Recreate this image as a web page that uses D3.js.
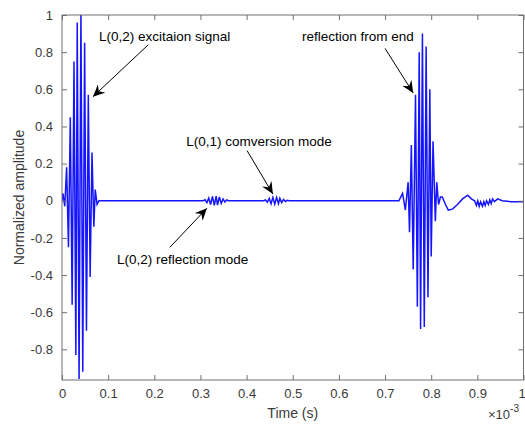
<!DOCTYPE html>
<html>
<head>
<meta charset="utf-8">
<script src="https://cdnjs.cloudflare.com/ajax/libs/d3/7.8.5/d3.min.js"></script>
<style>
  body { margin: 0; background: #fff; }
  svg { font-family: "Liberation Sans", Arial, sans-serif; }
</style>
</head>
<body>
<div id="chart"></div>
<script>
// time in units of 1e-3 s, amplitude normalized
var excitationT = [0, 0.002, 0.006, 0.010, 0.014, 0.018, 0.022, 0.026, 0.030, 0.033, 0.037, 0.041, 0.045, 0.049, 0.053, 0.057, 0.061, 0.065, 0.069, 0.072, 0.076, 0.080];
var excitationA = [0, 0.04, -0.03, 0.18, -0.25, 0.45, -0.56, 0.75, -0.83, 0.96, -0.96, 1.02, -0.92, 0.85, -0.70, 0.57, -0.41, 0.26, -0.14, 0.06, -0.02, 0];

var reflModeT = [0.306, 0.310, 0.314, 0.318, 0.322, 0.326, 0.330, 0.334, 0.337, 0.341, 0.345, 0.349, 0.353, 0.357, 0.361];
var reflModeA = [0, 0.005, -0.01, 0.015, -0.02, 0.024, -0.025, 0.025, -0.024, 0.02, -0.015, 0.01, -0.007, 0.004, 0];

var convModeT = [0.437, 0.441, 0.445, 0.449, 0.453, 0.457, 0.461, 0.465, 0.469, 0.472, 0.476, 0.480, 0.484, 0.488, 0.492];
var convModeA = [0, 0.004, -0.008, 0.012, -0.016, 0.018, -0.018, 0.018, -0.016, 0.013, -0.01, 0.007, -0.004, 0.002, 0];

var endReflT = [0.730, 0.738, 0.744, 0.750, 0.753, 0.757, 0.761, 0.766, 0.770, 0.774, 0.777, 0.781, 0.785, 0.789, 0.793, 0.797, 0.800, 0.804, 0.809, 0.812, 0.816, 0.820];
var endReflA = [0, 0.04, -0.05, 0.10, -0.17, 0.30, -0.37, 0.57, -0.57, 0.80, -0.69, 0.90, -0.68, 0.83, -0.52, 0.60, -0.30, 0.32, -0.11, 0.10, -0.02, 0.02];

var tailT = [0.824, 0.831, 0.837, 0.846, 0.857, 0.868, 0.879, 0.887, 0.894, 0.898, 0.901, 0.904, 0.907, 0.911, 0.914, 0.917, 0.920, 0.924, 0.927, 0.930, 0.933, 0.937, 0.944, 0.954, 0.972, 1.0];
var tailA = [0.02, -0.02, -0.05, -0.045, -0.02, 0.01, 0.03, 0.01, 0.0, -0.025, 0.0, -0.03, -0.005, -0.03, -0.005, -0.025, 0.0, -0.02, 0.005, -0.015, 0.01, -0.005, 0.01, 0.0, -0.005, -0.005];

var xTicks = [0, 0.1, 0.2, 0.3, 0.4, 0.5, 0.6, 0.7, 0.8, 0.9, 1];
var yTicks = [-0.8, -0.6, -0.4, -0.2, 0, 0.2, 0.4, 0.6, 0.8, 1];

// annotations: text anchor and arrow (from -> tip), in data units
var noteText = ["L(0,2) excitaion signal", "reflection from end", "L(0,1) comversion mode", "L(0,2) reflection mode"];
var noteT = [0.080, 0.520, 0.269, 0.119];
var noteA = [0.86, 0.86, 0.295, -0.34];
var arrowFrom = [[0.187, 0.84], [0.700, 0.82], [0.401, 0.27], [0.234, -0.25]];
var arrowTip = [[0.067, 0.56], [0.761, 0.58], [0.457, 0.036], [0.314, -0.04]];

var width = 525, height = 424;
var plotL = 62, plotR = 523.5, plotT = 15, plotB = 380;
var axisColor = "#707070", textColor = "#3a3a3a";

var svg = d3.select("#chart").append("svg")
    .attr("width", width)
    .attr("height", height);

var x = d3.scaleLinear().domain([0, 1]).range([plotL, plotR]);
var y = d3.scaleLinear().domain([-0.965, 1]).range([plotB, plotT]);

// build one trace from the segments
var points = [];
[[excitationT, excitationA], [reflModeT, reflModeA], [convModeT, convModeA],
 [endReflT, endReflA], [tailT, tailA]].forEach(function(seg) {
    seg[0].forEach(function(t, i) { points.push([t, seg[1][i]]); });
});

svg.append("clipPath").attr("id", "plotclip")
    .append("rect")
    .attr("x", plotL).attr("y", plotT)
    .attr("width", plotR - plotL).attr("height", plotB - plotT);

svg.append("path")
    .datum(points)
    .attr("clip-path", "url(#plotclip)")
    .attr("fill", "none")
    .attr("stroke", "#1414ff")
    .attr("stroke-width", 1.5)
    .attr("stroke-linejoin", "miter")
    .attr("d", d3.line().x(function(d) { return x(d[0]); }).y(function(d) { return y(d[1]); }));

// axes
function fmt(v) { return v === 0 ? "0" : String(+v.toFixed(1)); }

var xAxis = svg.append("g")
    .attr("transform", "translate(0," + plotB + ")")
    .call(d3.axisBottom(x).tickValues(xTicks).tickSizeInner(-5).tickSizeOuter(0).tickPadding(9).tickFormat(fmt));
var xTop = svg.append("g")
    .attr("transform", "translate(0," + plotT + ")")
    .call(d3.axisTop(x).tickValues(xTicks).tickSizeInner(-5).tickSizeOuter(0).tickFormat(""));
var yAxis = svg.append("g")
    .attr("transform", "translate(" + plotL + ",0)")
    .call(d3.axisLeft(y).tickValues(yTicks).tickSizeInner(-5).tickSizeOuter(0).tickPadding(9).tickFormat(fmt));
var yRight = svg.append("g")
    .attr("transform", "translate(" + plotR + ",0)")
    .call(d3.axisRight(y).tickValues(yTicks).tickSizeInner(-5).tickSizeOuter(0).tickFormat(""));

[xAxis, xTop, yAxis, yRight].forEach(function(g) {
    g.selectAll(".domain").remove();
    g.selectAll(".tick line").attr("stroke", axisColor);
    g.selectAll(".tick text")
        .attr("fill", textColor)
        .style("font-size", "13px")
        .style("font-family", "Liberation Sans, Arial, sans-serif");
});
// last x label sits at the very edge, nudge it in
xAxis.selectAll(".tick text").filter(function(d) { return d === 1; }).attr("dx", -2);

svg.append("rect")
    .attr("x", plotL).attr("y", plotT)
    .attr("width", plotR - plotL).attr("height", plotB - plotT)
    .attr("fill", "none")
    .attr("stroke", axisColor)
    .attr("stroke-width", 1);

// axis labels
svg.append("text")
    .attr("x", (plotL + plotR) / 2)
    .attr("y", 418)
    .attr("text-anchor", "middle")
    .attr("fill", textColor)
    .style("font-size", "14px")
    .text("Time (s)");

var expo = svg.append("text")
    .attr("x", 488)
    .attr("y", 419)
    .attr("fill", textColor)
    .style("font-size", "13px");
expo.append("tspan").text("\u00d710");
expo.append("tspan").attr("dy", -7).style("font-size", "10px").text("-3");

svg.append("text")
    .attr("transform", "translate(24," + ((plotT + plotB) / 2) + ") rotate(-90)")
    .attr("text-anchor", "middle")
    .attr("fill", textColor)
    .style("font-size", "14px")
    .text("Normalized amplitude");

// annotations
svg.append("defs").append("marker")
    .attr("id", "head")
    .attr("viewBox", "-12 -6 13 12")
    .attr("refX", 0).attr("refY", 0)
    .attr("markerWidth", 13).attr("markerHeight", 12)
    .attr("markerUnits", "userSpaceOnUse")
    .attr("orient", "auto")
    .append("path")
    .attr("d", "M0,0 L-12,-5.5 L-8,0 L-12,5.5 Z")
    .attr("fill", "#000");

noteText.forEach(function(txt, i) {
    svg.append("text")
        .attr("x", x(noteT[i]))
        .attr("y", y(noteA[i]))
        .attr("fill", "#000")
        .style("font-size", "13.5px")
        .text(txt);
    svg.append("line")
        .attr("x1", x(arrowFrom[i][0])).attr("y1", y(arrowFrom[i][1]))
        .attr("x2", x(arrowTip[i][0])).attr("y2", y(arrowTip[i][1]))
        .attr("stroke", "#000")
        .attr("stroke-width", 1)
        .attr("marker-end", "url(#head)");
});
</script>
</body>
</html>
